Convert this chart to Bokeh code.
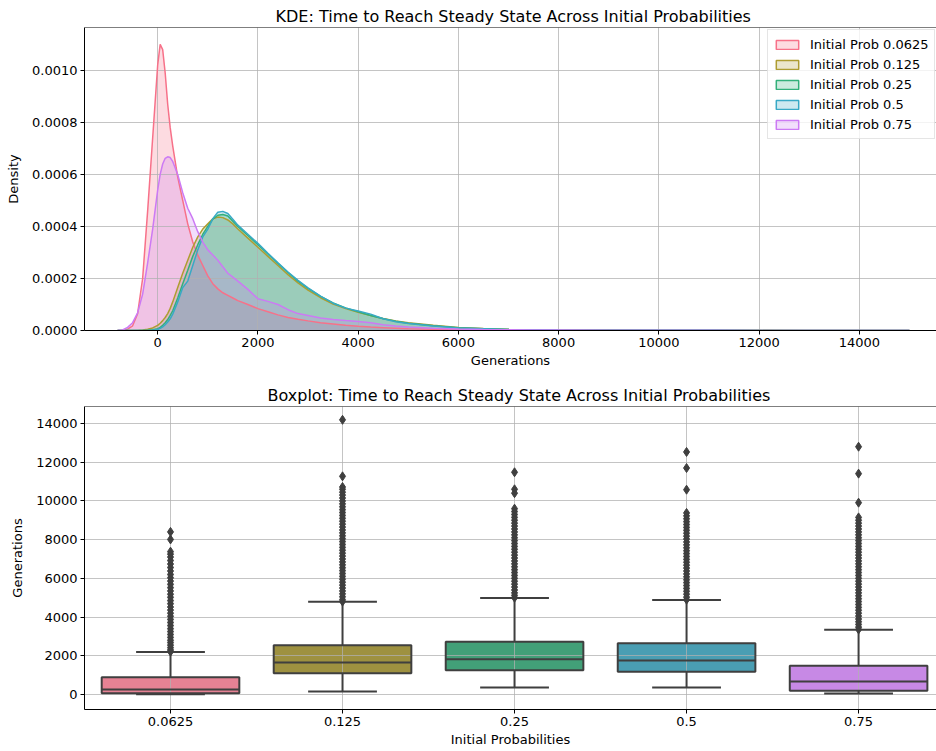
import numpy as np
from bokeh.plotting import figure
from bokeh.layouts import column
from bokeh.models import (Range1d, FixedTicker, NumeralTickFormatter, Legend,
                          LegendItem, Span)
from bokeh.embed import file_html
from bokeh.resources import INLINE

# ---------------- data ----------------
probs = ["0.0625", "0.125", "0.25", "0.5", "0.75"]
legend_labels = ["Initial Prob 0.0625", "Initial Prob 0.125", "Initial Prob 0.25",
                 "Initial Prob 0.5", "Initial Prob 0.75"]
line_colors = ["#f77189", "#ae9d31", "#33b07a", "#38a9c5", "#cc7af4"]
box_colors = ["#e68294", "#9e9140", "#42a078", "#4a9eb3", "#c789e5"]

# KDE grid (Generations) and density per initial probability
gens = [-800, -700, -600, -500, -400, -300, -200, -100, 0, 50, 100, 150, 200, 250,
        300, 400, 500, 600, 700, 800, 900, 1000, 1100, 1200, 1300, 1400, 1500,
        1600, 1800, 2000, 2200, 2400, 2600, 2800, 3000, 3250, 3500, 3750, 4000,
        4250, 4500, 4750, 5000, 5500, 6000, 6500, 7000, 7500, 8000, 9000, 10000,
        11000, 12000, 13000, 14000, 15000]

dens_0625 = [0, 0, 0.000005, 0.000018, 0.000065, 0.0002, 0.00046, 0.00074, 0.00102,
             0.00110, 0.00108, 0.00099, 0.00087, 0.00078, 0.00071, 0.00059, 0.00050,
             0.00041, 0.00034, 0.00029, 0.00025, 0.00021, 0.00018, 0.00016, 0.000145,
             0.000135, 0.000125, 0.000115, 0.0001, 0.000084, 0.000072, 0.00006,
             0.00005, 0.000043, 0.000037, 0.00003, 0.000025, 0.00002, 0.000016,
             0.000013, 0.000011, 0.000009, 0.000007, 0.000005, 0.000003, 0.000002,
             0.0000015, 0.000001, 0.0000008, 0.0000002, 0, 0, 0, 0, 0, 0]

dens_0125 = [0, 0, 0, 0, 0, 0.000002, 0.000005, 0.00001, 0.00002, 0.000028, 0.000038,
             0.00005, 0.000065, 0.000085, 0.00011, 0.000165, 0.00022, 0.00027, 0.00032,
             0.00036, 0.00039, 0.00041, 0.00043, 0.000436, 0.000434, 0.000425, 0.00041,
             0.00039, 0.000355, 0.00032, 0.000285, 0.00025, 0.000215, 0.000183,
             0.000155, 0.000126, 0.000102, 0.000084, 0.00007, 0.000058, 0.000046,
             0.000037, 0.00003, 0.00002, 0.000012, 0.000008, 0.000005, 0.000003,
             0.000002, 0.0000015, 0.000001, 0.0000008, 0.0000005, 0.0000003,
             0.0000002, 0]

dens_025 = [0, 0, 0, 0, 0, 0, 0.000001, 0.000003, 0.000007, 0.000012, 0.00002, 0.00003,
            0.000042, 0.000058, 0.000076, 0.000125, 0.00018, 0.000232, 0.000285,
            0.00033, 0.00037, 0.0004, 0.000428, 0.000443, 0.000446, 0.00044, 0.00042,
            0.0004, 0.000365, 0.00033, 0.000294, 0.000258, 0.000223, 0.00019,
            0.000162, 0.000131, 0.000106, 0.000087, 0.000072, 0.000058, 0.000045,
            0.000036, 0.000028, 0.000018, 0.000011, 0.000007, 0.000004, 0.000003,
            0.000002, 0.000001, 0.0000008, 0.0000006, 0.0000002, 0, 0, 0]

dens_05 = [0, 0, 0, 0, 0, 0, 0, 0.000001, 0.000004, 0.000008, 0.000014, 0.000022,
           0.000033, 0.000045, 0.000063, 0.00011, 0.000165, 0.00019, 0.00025, 0.00031,
           0.00036, 0.00039, 0.00043, 0.000455, 0.000458, 0.00045, 0.000428, 0.000405,
           0.00037, 0.000335, 0.000297, 0.00026, 0.000225, 0.000193, 0.000164,
           0.000132, 0.000105, 0.000086, 0.000075, 0.000063, 0.000045, 0.000034,
           0.000027, 0.000017, 0.00001, 0.000007, 0.000004, 0.000003, 0.000002,
           0.000001, 0.0000008, 0.0000005, 0.0000004, 0.0000002, 0, 0]

dens_075 = [0, 0.000002, 0.000012, 0.00003, 0.000068, 0.00014, 0.00026, 0.00039,
            0.00054, 0.0006, 0.00064, 0.000662, 0.000668, 0.000665, 0.00065, 0.0006,
            0.00053, 0.00047, 0.00043, 0.00038, 0.00034, 0.00031, 0.00029, 0.00027,
            0.000245, 0.00022, 0.000205, 0.00019, 0.000158, 0.000122, 0.000112,
            0.0001, 0.00008, 0.000065, 0.000058, 0.000048, 0.000042, 0.000038,
            0.000035, 0.00003, 0.000022, 0.000017, 0.000013, 0.000009, 0.000006,
            0.000004, 0.000003, 0.000002, 0.0000015, 0.000001, 0.0000008, 0.0000005,
            0.0000003, 0.0000003, 0.0000001, 0]

densities = [dens_0625, dens_0125, dens_025, dens_05, dens_075]

# Boxplot statistics (Generations)
box_low = [10, 155, 360, 360, 50]
box_q1 = [60, 1100, 1255, 1170, 190]
box_med = [255, 1650, 1820, 1755, 670]
box_q3 = [890, 2545, 2730, 2645, 1480]
box_high = [2200, 4795, 4985, 4880, 3350]

outliers_0625 = [2210, 2300, 2420, 2550, 2680, 2800, 2950, 3100, 3250, 3400, 3560,
                 3720, 3880, 4040, 4200, 4360, 4520, 4690, 4850, 5020, 5180, 5350,
                 5520, 5690, 5860, 6030, 6200, 6380, 6560, 6740, 6920, 7100, 7250,
                 7380, 8010, 8400]
outliers_0125 = [4800, 4900, 5050, 5200, 5350, 5500, 5650, 5800, 5950, 6100, 6250,
                 6400, 6550, 6700, 6850, 7000, 7150, 7300, 7450, 7600, 7750, 7900,
                 8050, 8200, 8350, 8500, 8650, 8800, 8950, 9100, 9250, 9400, 9550,
                 9700, 9850, 10000, 10150, 10300, 10450, 10600, 10720, 11270, 14190]
outliers_025 = [5000, 5120, 5250, 5400, 5550, 5700, 5850, 6000, 6150, 6300, 6450,
                6600, 6750, 6900, 7050, 7200, 7350, 7500, 7650, 7800, 7950, 8100,
                8250, 8400, 8550, 8700, 8850, 9000, 9150, 9300, 9450, 9600, 10400,
                10600, 11480]
outliers_05 = [4900, 5030, 5180, 5330, 5480, 5630, 5780, 5930, 6080, 6230, 6380,
               6530, 6680, 6830, 6980, 7130, 7280, 7430, 7580, 7730, 7880, 8030,
               8180, 8330, 8480, 8630, 8780, 8930, 9080, 9230, 9380, 10580, 11700,
               12530]
outliers_075 = [3360, 3480, 3620, 3760, 3900, 4050, 4200, 4350, 4500, 4650, 4800,
                4950, 5100, 5250, 5400, 5550, 5700, 5850, 6000, 6150, 6300, 6450,
                6600, 6750, 6900, 7050, 7200, 7350, 7500, 7650, 7800, 7950, 8100,
                8250, 8400, 8550, 8700, 8850, 9000, 9150, 9910, 11410, 12800]
outliers = [outliers_0625, outliers_0125, outliers_025, outliers_05, outliers_075]

kde_xticks = [0, 2000, 4000, 6000, 8000, 10000, 12000, 14000]
kde_yticks = [0.0, 0.0002, 0.0004, 0.0006, 0.0008, 0.0010]
box_yticks = [0, 2000, 4000, 6000, 8000, 10000, 12000, 14000]

# ---------------- style ----------------
FONT = "DejaVu Sans"
TICK = "13px"
LAB = "13px"
GRID = "#b0b0b0"
GRAY = "#3f3f3f"


def style(p, title_offset):
    p.title.text_font = FONT
    p.title.text_font_size = "16px"
    p.title.text_font_style = "normal"
    p.title.text_color = "black"
    p.title.align = "left"
    p.title.offset = title_offset
    p.title.standoff = 4
    for ax in (p.xaxis[0], p.yaxis[0]):
        ax.major_label_text_font = FONT
        ax.major_label_text_font_size = TICK
        ax.major_label_text_color = "black"
        ax.axis_label_text_font = FONT
        ax.axis_label_text_font_size = LAB
        ax.axis_label_text_font_style = "normal"
        ax.axis_label_text_color = "black"
        ax.axis_line_color = "black"
        ax.axis_line_width = 1
        ax.major_tick_line_color = "black"
        ax.major_tick_out = 4
        ax.major_tick_in = 0
        ax.minor_tick_line_color = None
        ax.major_label_standoff = 3
        ax.axis_label_standoff = 3
    p.yaxis[0].axis_label_standoff = 8
    for g in (p.xgrid[0], p.ygrid[0]):
        g.grid_line_color = GRID
        g.grid_line_alpha = 0.75
        g.grid_line_width = 1
        g.level = "underlay"
    p.outline_line_color = None
    p.background_fill_color = "white"
    p.border_fill_color = "white"


# ---------------- KDE figure ----------------
p1 = figure(width=936, height=376, output_backend="svg", toolbar_location=None,
            title="KDE: Time to Reach Steady State Across Initial Probabilities",
            x_range=Range1d(-1460, 15540), y_range=Range1d(0, 0.001165),
            min_border_left=84, min_border_right=0, min_border_top=27,
            min_border_bottom=46)
style(p1, 191)
p1.xaxis.axis_label = "Generations"
p1.yaxis.axis_label = "Density"
p1.xaxis.ticker = FixedTicker(ticks=kde_xticks)
p1.yaxis.ticker = FixedTicker(ticks=kde_yticks)
p1.yaxis.formatter = NumeralTickFormatter(format="0.0000")

# fills sit below the grid, outlines above it (as in matplotlib)
for i in range(5):
    c = line_colors[i]
    p1.varea(x=gens, y1=[0] * len(gens), y2=densities[i], fill_color=c,
             fill_alpha=0.25, level="image")
for i in range(5):
    c = line_colors[i]
    p1.line(x=gens, y=densities[i], line_color=c, line_width=1.5)

nan = float("nan")
items = []
for i in range(5):
    c = line_colors[i]
    r = p1.quad(left=[nan], right=[nan], top=[nan], bottom=[nan], fill_color=c,
                fill_alpha=0.25, line_color=c, line_width=1.5)
    items.append(LegendItem(label=legend_labels[i], renderers=[r]))
leg = Legend(items=items, location=(683, 191))
leg.label_text_font = FONT
leg.label_text_font_size = "13px"
leg.label_text_color = "black"
leg.glyph_width = 28
leg.glyph_height = 11
leg.label_height = 18
leg.spacing = 2
leg.padding = 5
leg.margin = 0
leg.label_standoff = 9
leg.background_fill_alpha = 0.8
leg.border_line_color = "#cccccc"
leg.border_line_width = 1
p1.add_layout(leg)
p1.add_layout(Span(location=0.001165, dimension="width", line_color="black",
                   line_width=1))

# ---------------- Boxplot figure ----------------
idx = np.arange(len(probs))
p2 = figure(width=936, height=374, output_backend="svg", toolbar_location=None,
            title="Boxplot: Time to Reach Steady State Across Initial Probabilities",
            x_range=Range1d(-0.5, 4.453), y_range=Range1d(-775, 14878),
            min_border_left=84, min_border_right=0, min_border_top=30,
            min_border_bottom=41)
style(p2, 183)
p2.xaxis.axis_label = "Initial Probabilities"
p2.yaxis.axis_label = "Generations"
p2.xaxis.ticker = FixedTicker(ticks=list(idx))
p2.xaxis.major_label_overrides = {int(i): probs[i] for i in idx}
p2.yaxis.ticker = FixedTicker(ticks=box_yticks)

# boxes (fill below grid)
p2.vbar(x=idx, width=0.8, bottom=box_q1, top=box_q3, fill_color=box_colors,
        line_color=None, level="image")
# whiskers
p2.segment(x0=idx, y0=box_q3, x1=idx, y1=box_high, line_color=GRAY, line_width=2)
p2.segment(x0=idx, y0=box_low, x1=idx, y1=box_q1, line_color=GRAY, line_width=2)
p2.segment(x0=idx - 0.2, y0=box_high, x1=idx + 0.2, y1=box_high, line_color=GRAY,
           line_width=2)
p2.segment(x0=idx - 0.2, y0=box_low, x1=idx + 0.2, y1=box_low, line_color=GRAY,
           line_width=2)
# box edges
p2.vbar(x=idx, width=0.8, bottom=box_q1, top=box_q3, fill_color=None,
        line_color=GRAY, line_width=2)
# medians
p2.segment(x0=idx - 0.4, y0=box_med, x1=idx + 0.4, y1=box_med, line_color=GRAY,
           line_width=2)
# outliers
ox, oy = [], []
for i, vals in enumerate(outliers):
    ox += [int(i)] * len(vals)
    oy += vals
p2.scatter(x=ox, y=oy, marker="diamond", size=9, fill_color=GRAY, line_color=GRAY)
p2.add_layout(Span(location=14878, dimension="width", line_color="black",
                   line_width=1))

layout = column(p1, p2, spacing=0)
open("out.html", "w").write(file_html(layout, INLINE))
